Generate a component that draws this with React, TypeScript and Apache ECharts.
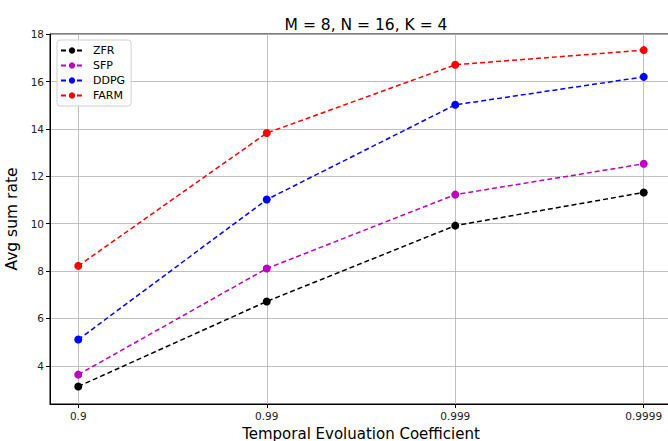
import React, { useEffect, useRef } from "react";
import * as echarts from "echarts";

const categories = ["0.9", "0.99", "0.999", "0.9999"];
const zfr = [3.13, 6.72, 9.92, 11.32];
const sfp = [3.63, 8.11, 11.23, 12.53];
const ddpg = [5.11, 11.02, 15.02, 16.2];
const farm = [8.22, 13.83, 16.71, 17.33];
const yTicks = [4, 6, 8, 10, 12, 14, 16, 18];

const seriesDefs = [
  { name: "ZFR", data: zfr, color: "#000000" },
  { name: "SFP", data: sfp, color: "#bf00bf" },
  { name: "DDPG", data: ddpg, color: "#0000ff" },
  { name: "FARM", data: farm, color: "#ff0000" },
];

export default function App() {
  const ref = useRef<HTMLDivElement>(null);
  useEffect(() => {
    const chart = echarts.init(ref.current!, null, { renderer: "svg" });
    const font = "DejaVu Sans";
    chart.setOption({
      animation: false,
      backgroundColor: "#ffffff",
      textStyle: { fontFamily: font },
      title: {
        text: "M = 8, N = 16, K = 4",
        left: 361,
        top: 12,
        textAlign: "center",
        textStyle: { fontFamily: font, fontSize: 15.5, fontWeight: "normal", color: "#000" },
      },
      grid: {
        left: 50,
        top: 34,
        width: 622,
        height: 370,
        outerBoundsMode: "none",
        containLabel: false,
        show: true,
        borderColor: "#000",
        borderWidth: 1,
        backgroundColor: "transparent",
      },
      legend: {
        orient: "vertical",
        left: 57,
        top: 40,
        padding: [5, 6, 5, 3],
        itemGap: 4,
        itemWidth: 22,
        itemHeight: 8,
        borderColor: "#d0d0d0",
        borderWidth: 1,
        borderRadius: 3,
        backgroundColor: "rgba(255,255,255,0.8)",
        textStyle: { fontFamily: font, fontSize: 11, color: "#000", padding: [0, 0, 0, 5] },
        data: seriesDefs.map((s) => s.name),
      },
      xAxis: {
        type: "value",
        min: -0.15,
        max: 3.15,
        name: "Temporal Evoluation Coefficient",
        nameLocation: "middle",
        nameGap: 16,
        nameTextStyle: { fontFamily: font, fontSize: 15, color: "#000", lineHeight: 16 },
        axisLine: { show: true, onZero: false, lineStyle: { color: "#000", width: 1 } },
        axisTick: { show: true, length: 4, customValues: [0, 1, 2, 3], lineStyle: { color: "#000" } },
        axisLabel: {
          customValues: [0, 1, 2, 3],
          formatter: (v: number) => categories[Math.round(v)] ?? "",
          fontFamily: font,
          fontSize: 10.5,
          color: "#222",
          margin: 6,
        },
        splitLine: { show: true, lineStyle: { color: "#b0b0b0", width: 0.8 } },
      },
      yAxis: {
        type: "value",
        min: 2.39,
        max: 18.01,
        name: "Avg sum rate",
        nameLocation: "middle",
        nameGap: 23,
        nameTextStyle: { fontFamily: font, fontSize: 15.5, color: "#000" },
        axisLine: { show: true, onZero: false, lineStyle: { color: "#000", width: 1 } },
        axisTick: { show: true, length: 4, customValues: yTicks, lineStyle: { color: "#000" } },
        axisLabel: {
          customValues: yTicks,
          fontFamily: font,
          fontSize: 10.5,
          color: "#222",
          margin: 6,
        },
        splitLine: { show: true, lineStyle: { color: "#b0b0b0", width: 0.8 } },
      },
      series: seriesDefs.map((s) => ({
        name: s.name,
        type: "line",
        data: s.data.map((v, i) => [i, v]),
        symbol: "circle",
        symbolSize: 8,
        color: s.color,
        itemStyle: { color: s.color },
        lineStyle: { color: s.color, width: 1.5, type: [5, 3] },
        clip: false,
      })),
    });
    return () => chart.dispose();
  }, []);
  return <div ref={ref} style={{ width: 668, height: 441, position: "absolute", left: 0, top: 0 }} />;
}
